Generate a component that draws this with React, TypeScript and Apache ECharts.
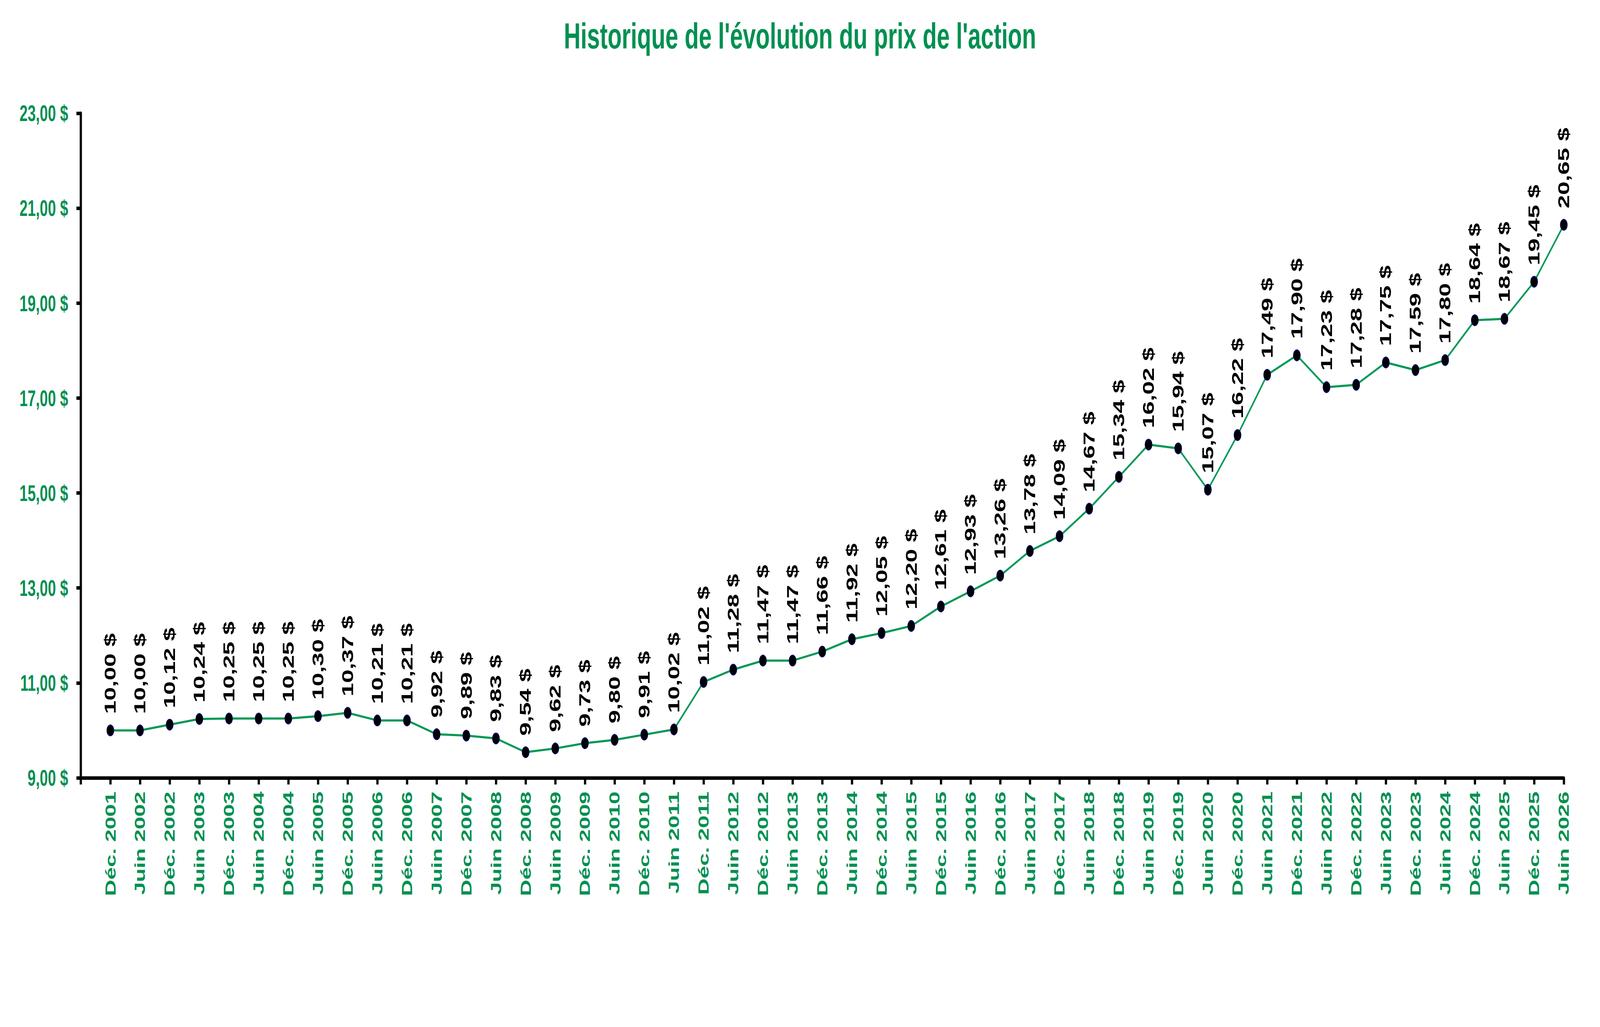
import React, { useEffect, useRef, useState } from "react";
import * as echarts from "echarts";

const title = "Historique de l'évolution du prix de l'action";

const categories = [
  "Déc. 2001", "Juin 2002", "Déc. 2002", "Juin 2003", "Déc. 2003",
  "Juin 2004", "Déc. 2004", "Juin 2005", "Déc. 2005", "Juin 2006",
  "Déc. 2006", "Juin 2007", "Déc. 2007", "Juin 2008", "Déc. 2008",
  "Juin 2009", "Déc. 2009", "Juin 2010", "Déc. 2010", "Juin 2011",
  "Déc. 2011", "Juin 2012", "Déc. 2012", "Juin 2013", "Déc. 2013",
  "Juin 2014", "Déc. 2014", "Juin 2015", "Déc. 2015", "Juin 2016",
  "Déc. 2016", "Juin 2017", "Déc. 2017", "Juin 2018", "Déc. 2018",
  "Juin 2019", "Déc. 2019", "Juin 2020", "Déc. 2020", "Juin 2021",
  "Déc. 2021", "Juin 2022", "Déc. 2022", "Juin 2023", "Déc. 2023",
  "Juin 2024", "Déc. 2024", "Juin 2025", "Déc. 2025", "Juin 2026",
];

const prices = [
  10.0, 10.0, 10.12, 10.24, 10.25,
  10.25, 10.25, 10.3, 10.37, 10.21,
  10.21, 9.92, 9.89, 9.83, 9.54,
  9.62, 9.73, 9.8, 9.91, 10.02,
  11.02, 11.28, 11.47, 11.47, 11.66,
  11.92, 12.05, 12.2, 12.61, 12.93,
  13.26, 13.78, 14.09, 14.67, 15.34,
  16.02, 15.94, 15.07, 16.22, 17.49,
  17.9, 17.23, 17.28, 17.75, 17.59,
  17.8, 18.64, 18.67, 19.45, 20.65,
];

const yTickValues = [9, 11, 13, 15, 17, 19, 21, 23];

const GREEN = "#009051";
const LINE_GREEN = "#009856";
const FONT = "'Liberation Sans', Arial, Helvetica, sans-serif";
const REF_W = 6365;
const REF_H = 2630;

const money = (v: number) => v.toFixed(2).replace(".", ",") + " $";

function getScale() {
  const w = window.innerWidth || REF_W;
  const h = window.innerHeight || REF_H;
  return { sx: w / REF_W, sy: h / REF_H };
}

export default function App() {
  const ref = useRef<HTMLDivElement>(null);
  const [scale, setScale] = useState(getScale());

  useEffect(() => {
    const onResize = () => setScale(getScale());
    window.addEventListener("resize", onResize);
    return () => window.removeEventListener("resize", onResize);
  }, []);

  useEffect(() => {
    const el = ref.current;
    if (!el) return;
    const chart = echarts.init(el, undefined, {
      renderer: "svg",
      width: REF_W,
      height: REF_H,
    });
    const yMin = yTickValues[0];
    const yMax = yTickValues[yTickValues.length - 1];
    const yStep = yTickValues[1] - yTickValues[0];

    chart.setOption({
      animation: false,
      backgroundColor: "#ffffff",
      title: {
        text: title,
        left: "center",
        top: 41,
        textStyle: {
          color: GREEN,
          fontSize: 92,
          fontWeight: "bold",
          fontFamily: FONT,
        },
      },
      grid: {
        left: 321,
        right: 144,
        top: 290,
        bottom: 638,
        containLabel: false,
      },
      xAxis: {
        type: "category",
        boundaryGap: false,
        data: ["", ...categories],
        axisLine: { show: true, lineStyle: { color: "#000", width: 9 } },
        axisTick: {
          show: true,
          interval: 0,
          length: 17,
          lineStyle: { color: "#000", width: 9 },
        },
        axisLabel: {
          interval: 0,
          rotate: 90,
          margin: 35,
          color: GREEN,
          fontSize: 58,
          fontWeight: "bold",
          fontFamily: FONT,
        },
        splitLine: { show: false },
      },
      yAxis: {
        type: "value",
        min: yMin,
        max: yMax,
        interval: yStep,
        axisLine: { show: true, lineStyle: { color: "#000", width: 9 } },
        axisTick: {
          show: true,
          length: 17,
          lineStyle: { color: "#000", width: 9 },
        },
        axisLabel: {
          margin: 50,
          color: GREEN,
          fontSize: 58,
          fontWeight: "bold",
          fontFamily: FONT,
          formatter: (v: number) => money(v),
        },
        splitLine: { show: false },
      },
      series: [
        {
          type: "line",
          data: [null, ...prices],
          symbol: "circle",
          symbolSize: 28,
          showAllSymbol: true,
          lineStyle: { color: LINE_GREEN, width: 5.5 },
          itemStyle: { color: "#000", borderColor: "#000080", borderWidth: 2 },
          label: {
            show: true,
            position: "top",
            distance: 27,
            rotate: 90,
            align: "left",
            verticalAlign: "middle",
            color: "#000",
            fontSize: 62,
            fontWeight: "bold",
            fontFamily: FONT,
            formatter: (p: any) => money(p.value as number),
          },
        },
      ],
    });

    return () => {
      chart.dispose();
    };
  }, []);

  return (
    <div
      style={{
        position: "fixed",
        left: 0,
        top: 0,
        width: "100vw",
        height: "100vh",
        background: "#fff",
        overflow: "hidden",
      }}
    >
      <div
        ref={ref}
        style={{
          width: REF_W,
          height: REF_H,
          transformOrigin: "0 0",
          transform: `scale(${scale.sx}, ${scale.sy})`,
          background: "#fff",
        }}
      />
    </div>
  );
}
